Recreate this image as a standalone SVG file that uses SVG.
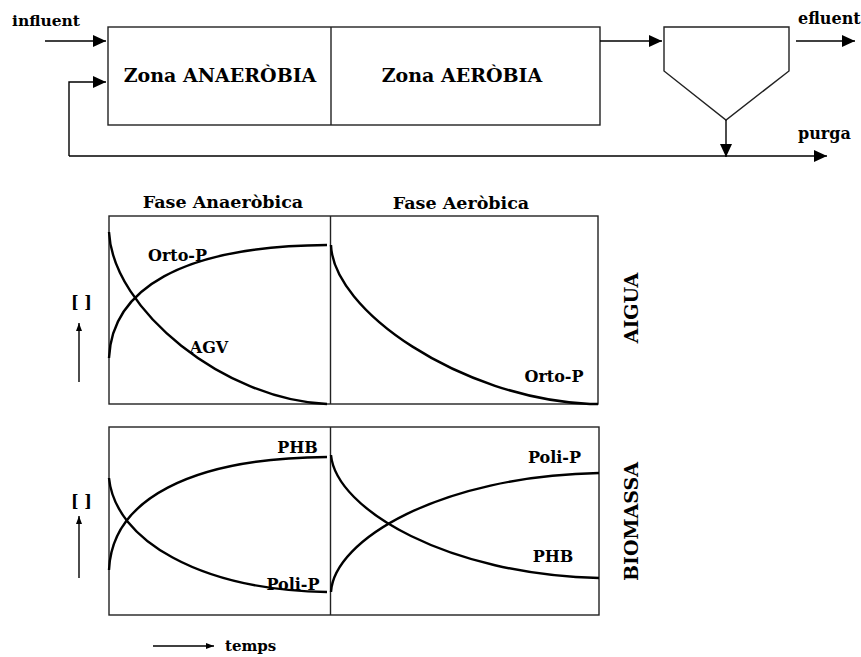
<svg xmlns="http://www.w3.org/2000/svg" width="861" height="657" viewBox="0 0 861 657">
<style>
.t{font-family:"DejaVu Serif","Liberation Serif",serif;font-weight:bold;fill:#000}
.m{text-anchor:middle}
.lb{font-size:16px}
.box{fill:none;stroke:#222;stroke-width:1.4}
.ln{fill:none;stroke:#000;stroke-width:1.4}
.cv{fill:none;stroke:#000;stroke-width:2.4}
</style>
<defs>
<marker id="ah" markerWidth="13" markerHeight="12" refX="13" refY="6" orient="auto" markerUnits="userSpaceOnUse"><path d="M0,0 L13,6 L0,12 Z" fill="#000"/></marker>
<marker id="as" markerWidth="8" markerHeight="6" refX="8" refY="3" orient="auto" markerUnits="userSpaceOnUse"><path d="M0,0 L8,3 L0,6 Z" fill="#000"/></marker>
</defs>
<rect width="861" height="657" fill="#fff"/>
<g id="reactor">
<rect class="box" x="108" y="27" width="492" height="98"/>
<line class="box" x1="331" y1="27" x2="331" y2="125"/>
<text class="t m" x="220" y="82" font-size="19">Zona ANAERÒBIA</text>
<text class="t m" x="462" y="82" font-size="19">Zona AERÒBIA</text>
</g>
<g id="settler">
<path class="box" d="M664,27 L789,27 L789,71 L726,120 L664,71 Z"/>
</g>
<g id="labels-top">
<text class="t" x="12" y="26" font-size="15.5">influent</text>
<text class="t" x="798" y="24" font-size="16">efluent</text>
<text class="t" x="798" y="139" font-size="16">purga</text>
</g>
<g id="connectors">
<line class="ln" x1="45" y1="41" x2="106" y2="41" marker-end="url(#ah)"/>
<polyline class="ln" points="69,156 69,82 106,82" marker-end="url(#ah)"/>
<line class="ln" x1="600" y1="41" x2="662" y2="41" marker-end="url(#ah)"/>
<line class="ln" x1="796" y1="41" x2="855" y2="41" marker-end="url(#ah)"/>
<line class="ln" x1="726" y1="120" x2="726" y2="157" marker-end="url(#ah)"/>
<line class="ln" x1="69" y1="156" x2="827" y2="156" marker-end="url(#ah)"/>
<line class="ln" x1="79" y1="382" x2="79" y2="323" marker-end="url(#as)"/>
<line class="ln" x1="79" y1="578" x2="79" y2="516" marker-end="url(#as)"/>
<line class="ln" x1="153" y1="646" x2="214" y2="646" marker-end="url(#as)"/>
</g>
<g id="graph-aigua">
<rect class="box" x="109" y="216" width="489" height="188"/>
<line class="box" x1="330.5" y1="216" x2="330.5" y2="404"/>
<path class="cv" d="M109,232 C113,310 225,400 327,404"/>
<path class="cv" d="M109,358 C112,290 180,246 327,245"/>
<path class="cv" d="M331,245 C333,310 460,398 590,404 L598,404"/>
<text class="t m" x="223" y="208" font-size="17.5">Fase Anaeròbica</text>
<text class="t m" x="461" y="209" font-size="17.5">Fase Aeròbica</text>
<text class="t m lb" x="177.5" y="261">Orto-P</text>
<text class="t m lb" x="209" y="353">AGV</text>
<text class="t m lb" x="554" y="382">Orto-P</text>
<text class="t" x="71" y="308" font-size="16">[ ]</text>
<text class="t m" transform="translate(638,308) rotate(-90)" font-size="19">AIGUA</text>
</g>
<g id="graph-biomassa">
<rect class="box" x="109" y="427" width="490" height="188"/>
<line class="box" x1="330.5" y1="427" x2="330.5" y2="615"/>
<path class="cv" d="M109,570 C112,500 190,458 327,457"/>
<path class="cv" d="M109,478 C115,540 200,590 327,592"/>
<path class="cv" d="M331,455 C336,510 450,575 599,578"/>
<path class="cv" d="M331,592 C334,540 440,476 599,473"/>
<text class="t m lb" x="297.5" y="453">PHB</text>
<text class="t m lb" x="293" y="590">Poli-P</text>
<text class="t m lb" x="554.5" y="463">Poli-P</text>
<text class="t m lb" x="553" y="562">PHB</text>
<text class="t" x="71" y="507" font-size="16">[ ]</text>
<text class="t m" transform="translate(638,521.5) rotate(-90)" font-size="19">BIOMASSA</text>
<text class="t" x="225" y="651" font-size="15">temps</text>
</g>
</svg>
